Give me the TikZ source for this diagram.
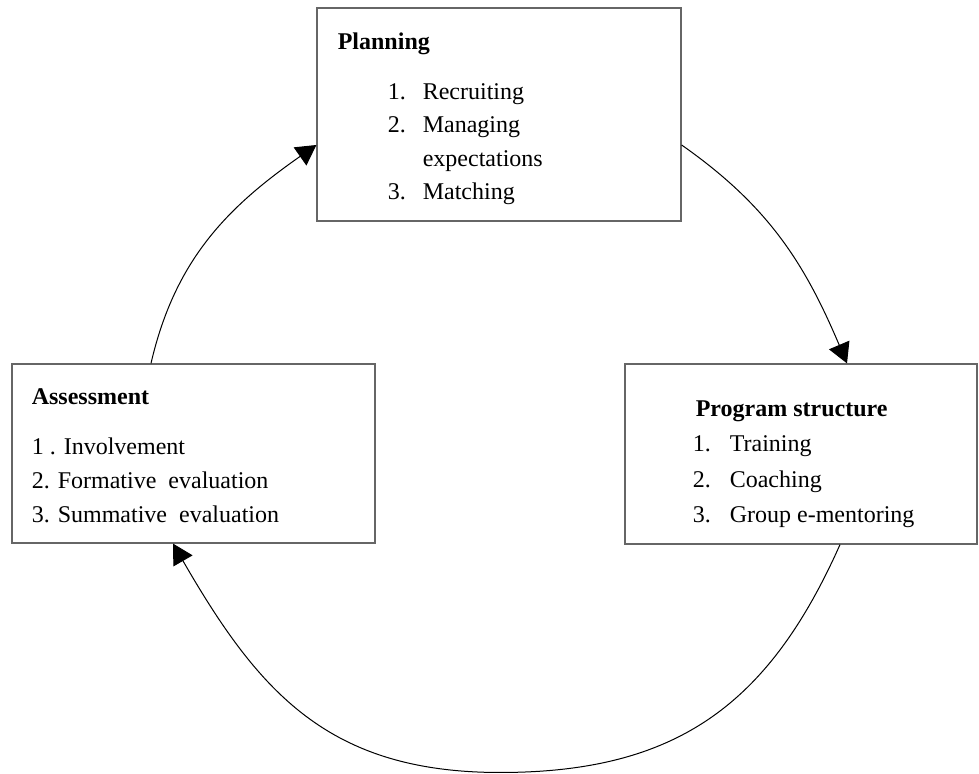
\documentclass[tikz,border=0pt]{standalone}
\usepackage{fontspec}
\setmainfont{Liberation Serif}
\usetikzlibrary{arrows.meta}

\tikzset{
  box/.style={draw=black!60, line width=0.6pt, inner sep=0pt},
  boxtitle/.style={font=\fontsize{12}{14}\selectfont\bfseries, anchor=base west, inner sep=0pt},
  boxitem/.style={anchor=base west, inner sep=0pt},
  cyc/.style={line width=0.5pt, -{Triangle[length=10pt,width=11pt]}}
}

\begin{document}
\begin{tikzpicture}[x=0.5pt,y=0.5pt,font=\fontsize{12}{14}\selectfont]
	\useasboundingbox (0,0) rectangle (979,774);

	% Caixes
	\node[box, minimum width=182pt, minimum height=106.5pt] (plan) at (499,659.5) {};
	\node[box, minimum width=181.5pt, minimum height=89.5pt] (assess) at (193.5,320.5) {};
	\node[box, minimum width=176pt, minimum height=90pt] (prog) at (801,320) {};

	% Planning
	\node[boxtitle] (plantitle) at ([shift={(21,-42)}]plan.north west) {Planning};
	\foreach \i/\y in {1/92, 2/125, 3/192} {
		\node[boxitem] (plannum\i) at ([shift={(71,-\y)}]plan.north west) {\i.};
	}
	\foreach \i/\y/\t in {1/92/Recruiting, 2/125/Managing, 3/159/expectations, 4/192/Matching} {
		\node[boxitem] (planitem\i) at ([shift={(106,-\y)}]plan.north west) {\t};
	}

	% Program structure
	\node[boxtitle] (progtitle) at ([shift={(71,-53)}]prog.north west) {Program structure};
	\foreach \i/\y/\t in {1/88/Training, 2/124/Coaching, 3/159/Group e-mentoring} {
		\node[boxitem] (prognum\i) at ([shift={(68,-\y)}]prog.north west) {\i.};
		\node[boxitem] (progitem\i) at ([shift={(105,-\y)}]prog.north west) {\t};
	}

	% Assessment
	\node[boxtitle] (assesstitle) at ([shift={(20,-41)}]assess.north west) {Assessment};
	\foreach \i/\y/\t in {1/91/{1 . Involvement}, 2/125/{2. Formative\enspace evaluation}, 3/159/{3. Summative\enspace evaluation}} {
		\node[boxitem] (assessitem\i) at ([shift={(20,-\y)}]assess.north west) {\t};
	}

	% Cicle
	\coordinate (bottom) at (500,1.5);
	\draw[cyc] ([shift={(0,-30.5)}]plan.east) to[out=-35,in=113] ([shift={(46,0)}]prog.north);
	\draw[cyc] ([shift={(39,0)}]prog.south) to[out=-114,in=0,looseness=1.1] (bottom) to[out=180,in=-60,looseness=1.1] ([shift={(-20.5,0)}]assess.south);
	\draw[cyc] ([shift={(-42.5,0)}]assess.north) to[out=77,in=215] ([shift={(0,-30.5)}]plan.west);
\end{tikzpicture}
\end{document}
